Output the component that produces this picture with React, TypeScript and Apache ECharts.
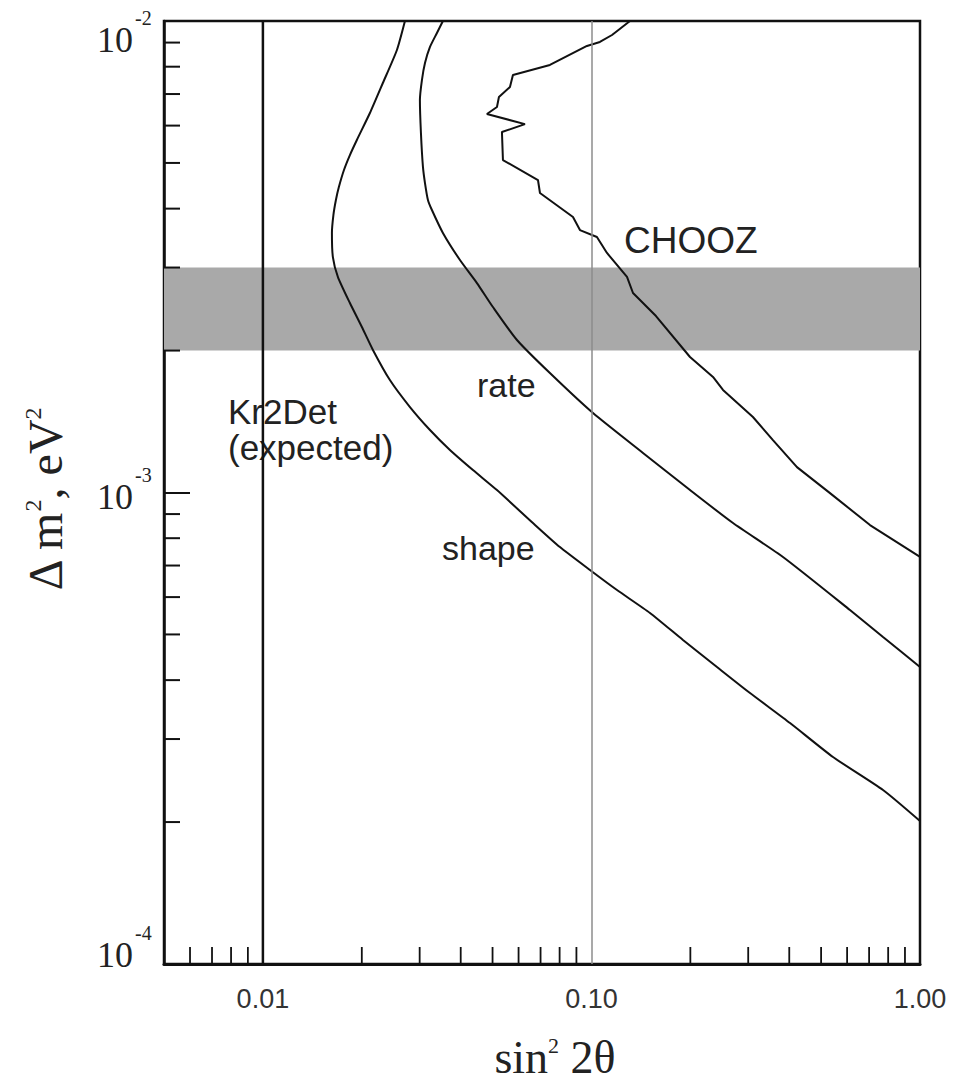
import React, { useEffect, useRef } from "react";
import * as echarts from "echarts";

// Axis ranges
const X_MIN = 0.005;
const X_MAX = 1;
const Y_MIN = 1e-4;
const Y_MAX = 1e-2;

// Tick labels of the y axis (written as 10 with a superscript exponent)
const yLabelValues = [1e-2, 1e-3, 1e-4];
const yLabelExponents = ["-2", "-3", "-4"];

// "shape" exclusion curve
const shapeX = [0.02706, 0.02558, 0.02318, 0.02117, 0.01932, 0.0184, 0.01765, 0.01703, 0.01668, 0.01639, 0.01622, 0.01633, 0.01692, 0.0184, 0.02001, 0.02162, 0.02435, 0.02803, 0.03225, 0.03709, 0.04358, 0.05157, 0.06636, 0.08017, 0.09895, 0.1196, 0.1507, 0.1899, 0.241, 0.3038, 0.4022, 0.5434, 0.7717, 1.0];
const shapeY = [0.01, 0.008681, 0.007387, 0.00638, 0.005593, 0.005196, 0.004831, 0.004445, 0.004173, 0.003877, 0.003552, 0.003158, 0.002864, 0.002523, 0.002244, 0.002006, 0.001732, 0.001518, 0.001357, 0.001231, 0.001116, 0.001012, 0.0008615, 0.000766, 0.0006848, 0.000621, 0.0005553, 0.0004866, 0.0004265, 0.0003756, 0.0003244, 0.0002748, 0.0002339, 0.000201];

// "rate" exclusion curve
const rateX = [0.03531, 0.03386, 0.03225, 0.03114, 0.03048, 0.03005, 0.03027, 0.0307, 0.03114, 0.03179, 0.03269, 0.03531, 0.03979, 0.04482, 0.05013, 0.05933, 0.07474, 0.1011, 0.1435, 0.1995, 0.2697, 0.3828, 0.6121, 0.7717, 1.0];
const rateY = [0.01, 0.009431, 0.00881, 0.008145, 0.007496, 0.006799, 0.005787, 0.004903, 0.004532, 0.004173, 0.003973, 0.003552, 0.003112, 0.002781, 0.002474, 0.002106, 0.001792, 0.001474, 0.001213, 0.001012, 0.0008615, 0.0007299, 0.0005634, 0.0004938, 0.0004265];

// CHOOZ exclusion curve (jagged)
const choozX = [0.131, 0.1155, 0.1061, 0.09689, 0.07474, 0.05768, 0.05649, 0.05229, 0.05157, 0.04807, 0.06275, 0.0534, 0.05378, 0.06874, 0.06971, 0.08786, 0.09226, 0.1039, 0.1115, 0.1283, 0.1338, 0.1572, 0.1995, 0.2344, 0.2514, 0.3101, 0.3568, 0.4222, 0.5322, 0.7043, 1.0];
const choozY = [0.01, 0.009339, 0.009026, 0.008852, 0.008067, 0.007683, 0.007244, 0.006899, 0.006572, 0.006349, 0.006044, 0.005814, 0.005072, 0.0046, 0.004317, 0.00384, 0.003602, 0.003482, 0.003221, 0.002865, 0.002649, 0.002367, 0.001938, 0.001758, 0.00165, 0.001446, 0.001292, 0.001132, 0.000997, 0.000853, 0.00073];

// Kr2Det expected sensitivity (vertical line)
const kr2detX = [0.01, 0.01];
const kr2detY = [Y_MIN, Y_MAX];

// Shaded band of Δm²
const bandY = [0.002, 0.003];

// Reference grid lines
const gridLineX = [0.1];
const gridLineY = [0.001];

// Minor ticks
const xMinorTicks = [0.006, 0.007, 0.008, 0.009, 0.02, 0.03, 0.04, 0.05, 0.06, 0.07, 0.08, 0.09, 0.2, 0.3, 0.4, 0.5, 0.6, 0.7, 0.8, 0.9];
const yMinorTicks = [2e-4, 3e-4, 4e-4, 5e-4, 6e-4, 7e-4, 8e-4, 9e-4, 2e-3, 3e-3, 4e-3, 5e-3, 6e-3, 7e-3, 8e-3, 9e-3];

const SANS = "'Liberation Sans', Arial, sans-serif";
const SERIF = "'Liberation Serif', 'Times New Roman', serif";

// vertical offsets (px) of each y label's "10" relative to its tick
const Y_LABEL_SHIFT = [19, 4, -9];

function zip(xs: number[], ys: number[]) {
  return xs.map((x, i) => [x, ys[i]]);
}

function isDecade(v: number) {
  const l = Math.log10(v);
  return Math.abs(l - Math.round(l)) < 1e-6;
}

export default function App() {
  const ref = useRef<HTMLDivElement>(null);

  useEffect(() => {
    if (!ref.current) return;
    const chart = echarts.init(ref.current, undefined, { renderer: "svg" });

    const option: any = {
      animation: false,
      backgroundColor: "#ffffff",
      grid: {
        left: 164,
        right: 35,
        top: 21,
        bottom: 121,
        show: true,
        borderColor: "#111",
        borderWidth: 2.5,
        backgroundColor: "transparent",
        outerBoundsMode: "none",
      },
      xAxis: {
        type: "log",
        logBase: 10,
        min: X_MIN,
        max: X_MAX,
        axisLine: { show: true, lineStyle: { color: "#111", width: 3 } },
        axisTick: { show: false },
        splitLine: { show: false },
        axisLabel: {
          showMinLabel: true,
          showMaxLabel: true,
          fontFamily: SANS,
          fontSize: 27,
          color: "#333",
          margin: 21,
          formatter: (v: number) => (isDecade(v) && v >= 0.0099 ? v.toFixed(2) : ""),
        },
        name: "{a|sin}{s|2}{a| 2θ}",
        nameLocation: "middle",
        nameGap: 70,
        nameTextStyle: {
          rich: {
            a: { fontFamily: SERIF, fontSize: 46, color: "#222" },
            s: { fontFamily: SERIF, fontSize: 22, color: "#222", verticalAlign: "top" },
          },
          padding: [0, 0, 0, 26],
        },
      },
      yAxis: {
        type: "log",
        logBase: 10,
        min: Y_MIN,
        max: Y_MAX,
        axisLine: { show: true, lineStyle: { color: "#111", width: 2.5 } },
        axisTick: { show: true, inside: true, length: 26, lineStyle: { color: "#111", width: 2 } },
        splitLine: { show: false },
        axisLabel: { show: false },
        name: "{a|Δ m}{s|2}{a|, eV}{s|2}",
        nameLocation: "middle",
        nameGap: 95,
        nameTextStyle: {
          rich: {
            a: { fontFamily: SERIF, fontSize: 48, color: "#222" },
            s: { fontFamily: SERIF, fontSize: 24, color: "#222", verticalAlign: "top" },
          },
          padding: [0, 14, 0, 0],
        },
      },
      series: [
        {
          name: "band",
          type: "line",
          z: 1,
          silent: true,
          symbol: "none",
          lineStyle: { opacity: 0 },
          data: [
            [X_MIN, bandY[0]],
            [X_MAX, bandY[0]],
          ],
          markArea: {
            silent: true,
            itemStyle: { color: "#a9a9a9", opacity: 1 },
            data: [[{ xAxis: X_MIN, yAxis: bandY[0] }, { xAxis: X_MAX, yAxis: bandY[1] }]],
          },
          markLine: {
            silent: true,
            symbol: ["none", "none"],
            label: { show: false },
            data: [
              ...gridLineX.map((v) => ({ xAxis: v, lineStyle: { color: "#8c8c8c", width: 1.5, type: "solid" } })),
              ...gridLineY.map((v) => ({ yAxis: v, lineStyle: { color: "#444", width: 1.5, type: "solid" } })),
            ],
          },
        },
        {
          name: "Kr2Det (expected)",
          type: "line",
          z: 3,
          symbol: "none",
          lineStyle: { color: "#111", width: 2.5 },
          data: zip(kr2detX, kr2detY),
        },
        {
          name: "shape",
          type: "line",
          z: 4,
          symbol: "none",
          smooth: 0.2,
          lineStyle: { color: "#111", width: 2 },
          data: zip(shapeX, shapeY),
        },
        {
          name: "rate",
          type: "line",
          z: 4,
          symbol: "none",
          smooth: 0.2,
          lineStyle: { color: "#111", width: 2 },
          data: zip(rateX, rateY),
        },
        {
          name: "CHOOZ",
          type: "line",
          z: 4,
          symbol: "none",
          lineStyle: { color: "#111", width: 2 },
          data: zip(choozX, choozY),
        },
        {
          name: "xMinor",
          type: "custom",
          coordinateSystem: "cartesian2d",
          silent: true,
          clip: false,
          z: 5,
          data: xMinorTicks.map((v) => [v, Y_MIN]),
          renderItem: (_p: any, api: any) => {
            const p = api.coord([api.value(0), api.value(1)]);
            return {
              type: "line",
              shape: { x1: p[0], y1: p[1], x2: p[0], y2: p[1] - 17 },
              style: { stroke: "#111", lineWidth: 1.8 },
            };
          },
        },
        {
          name: "yMinor",
          type: "custom",
          coordinateSystem: "cartesian2d",
          silent: true,
          clip: false,
          z: 5,
          data: yMinorTicks.map((v) => [X_MIN, v]),
          renderItem: (_p: any, api: any) => {
            const p = api.coord([api.value(0), api.value(1)]);
            return {
              type: "line",
              shape: { x1: p[0], y1: p[1], x2: p[0] + 16, y2: p[1] },
              style: { stroke: "#111", lineWidth: 2 },
            };
          },
        },
      ],
      graphic: [
        { id: "lbl-chooz", type: "text", x: 624, y: 240, style: { text: "CHOOZ", font: `37px ${SANS}`, fill: "#222", verticalAlign: "middle" } },
        { id: "lbl-rate", type: "text", x: 477, y: 385, style: { text: "rate", font: `34px ${SANS}`, fill: "#222", verticalAlign: "middle" } },
        { id: "lbl-kr", type: "text", x: 228, y: 411, style: { text: "Kr2Det", font: `35px ${SANS}`, fill: "#222", verticalAlign: "middle" } },
        { id: "lbl-exp", type: "text", x: 228, y: 447, style: { text: "(expected)", font: `35px ${SANS}`, fill: "#222", verticalAlign: "middle" } },
        { id: "lbl-shape", type: "text", x: 442, y: 548, style: { text: "shape", font: `34px ${SANS}`, fill: "#222", verticalAlign: "middle" } },
      ],
    };

    chart.setOption(option);

    // y tick labels "10^n", placed through the y axis scale
    const yLabels: any[] = [];
    yLabelValues.forEach((v, i) => {
      const py = chart.convertToPixel({ yAxisIndex: 0 }, v) as number;
      const cy = py + Y_LABEL_SHIFT[i];
      yLabels.push({
        id: "ylab-base-" + i,
        type: "text",
        x: 133,
        y: cy,
        style: { text: "10", font: `36px ${SERIF}`, fill: "#222", align: "right", verticalAlign: "middle" },
      });
      yLabels.push({
        id: "ylab-exp-" + i,
        type: "text",
        x: 135,
        y: cy - 22,
        style: { text: yLabelExponents[i], font: `20px ${SERIF}`, fill: "#222", align: "left", verticalAlign: "middle" },
      });
    });
    chart.setOption({ graphic: yLabels });

    return () => chart.dispose();
  }, []);

  return <div ref={ref} style={{ position: "absolute", left: 0, top: 0, width: 955, height: 1085 }} />;
}
